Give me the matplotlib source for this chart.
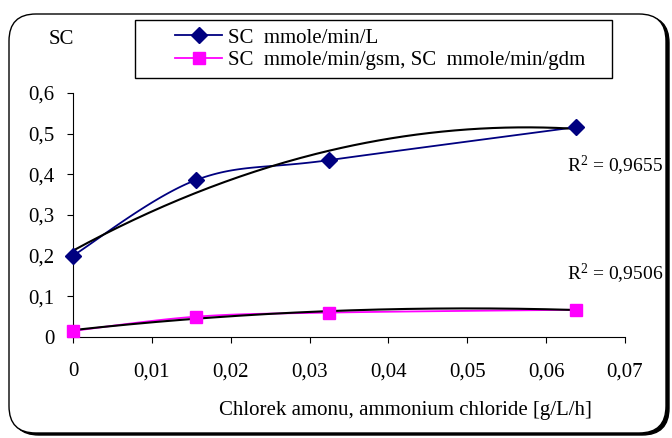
import numpy as np
import matplotlib
matplotlib.use("Agg")
import matplotlib.pyplot as plt
from matplotlib.lines import Line2D
from matplotlib.patches import FancyBboxPatch, Rectangle

plt.rcParams['font.family'] = ['Liberation Serif', 'DejaVu Serif']
plt.rcParams['mathtext.default'] = 'regular'

# data
dose = [0.0, 0.0156, 0.0325, 0.0638]             # ammonium chloride [g/L/h]
sc_per_l = [0.200, 0.386, 0.435, 0.516]          # SC mmole/min/L
sc_per_g = [0.015, 0.050, 0.060, 0.067]          # SC mmole/min/gsm, gdm
r2_labels = ['R$^2$ = 0,9655', 'R$^2$ = 0,9506']
xticks = [0, 0.01, 0.02, 0.03, 0.04, 0.05, 0.06, 0.07]
yticks = [0, 0.1, 0.2, 0.3, 0.4, 0.5, 0.6]


def smooth(x, y, n=40):
    # Excel-like smoothed line (Catmull-Rom through the points)
    pts = np.column_stack([x, y])
    p = np.vstack([pts[0], pts, pts[-1]])
    t = np.linspace(0, 1, n)[:, None]
    segs = []
    for i in range(1, len(p) - 2):
        p0, p1, p2, p3 = p[i - 1], p[i], p[i + 1], p[i + 2]
        seg = 0.5 * (2 * p1 + (p2 - p0) * t
                     + (2 * p0 - 5 * p1 + 4 * p2 - p3) * t ** 2
                     + (3 * p1 - p0 - 3 * p2 + p3) * t ** 3)
        segs.append(seg)
    s = np.vstack(segs)
    return s[:, 0], s[:, 1]


W, H = 672, 438
FS = 15
fig = plt.figure(figsize=(W / 100, H / 100), dpi=100)

# rounded frame with shadow
shadow = FancyBboxPatch((12 / W, 3 / H), 657 / W, 419 / H,
                        boxstyle="round,pad=0,rounding_size=0.04",
                        transform=fig.transFigure, fc='black', ec='black', lw=1,
                        mutation_aspect=W / H, zorder=-3)
frame = FancyBboxPatch((9 / W, 5 / H), 657 / W, 419 / H,
                       boxstyle="round,pad=0,rounding_size=0.04",
                       transform=fig.transFigure, fc='white', ec='black', lw=1,
                       mutation_aspect=W / H, zorder=-2)
legend_box = Rectangle((135 / W, 1 - 78 / H), 477 / W, 58 / H,
                       transform=fig.transFigure, fc='white', ec='black', lw=1,
                       zorder=-1)
fig.patches.extend([shadow, frame, legend_box])

ax = fig.add_axes([73 / W, 1 - 337 / H, 552 / W, 244 / H])
ax.set_facecolor('none')

navy = '#000080'
magenta = '#FF00FF'

xs, ys = smooth(dose, sc_per_l)
ax.plot(xs, ys, color=navy, lw=1.3, zorder=2)
xs, ys = smooth(dose, sc_per_g)
ax.plot(xs, ys, color=magenta, lw=1.3, zorder=2)

# quadratic trend lines
xt = np.linspace(dose[0], dose[-1], 200)
for series in (sc_per_l, sc_per_g):
    coef = np.polyfit(dose, series, 2)
    ax.plot(xt, np.polyval(coef, xt), color='black', lw=1.5, zorder=3)

ax.plot(dose, sc_per_l, ls='none', marker='D', ms=8, color=navy, zorder=4, clip_on=False)
ax.plot(dose, sc_per_g, ls='none', marker='s', ms=8, color=magenta, zorder=4, clip_on=False)

ax.set_xlim(0, 0.07)
ax.set_ylim(0, 0.6)
ax.set_xticks(xticks)
ax.set_xticklabels(['0' if v == 0 else f'{v:.2f}'.replace('.', ',') for v in xticks])
ax.set_yticks(yticks)
ax.set_yticklabels(['0' if v == 0 else f'{v:.1f}'.replace('.', ',') for v in yticks])
ax.spines['top'].set_visible(False)
ax.spines['right'].set_visible(False)
ax.tick_params(axis='x', direction='out', length=4.3, pad=14, labelsize=FS)
ax.tick_params(axis='y', direction='out', length=4.3, pad=9, labelsize=FS)

fig.text(61 / W, 1 - 39 / H, 'SC', fontsize=FS, ha='center', va='center')
fig.text(405 / W, 1 - 411 / H, 'Chlorek amonu, ammonium chloride [g/L/h]',
         fontsize=FS, ha='center', va='center')
fig.text(567 / W, 1 - 172 / H, r2_labels[0], fontsize=14, va='baseline')
fig.text(567 / W, 1 - 280 / H, r2_labels[1], fontsize=14, va='baseline')

handles = [Line2D([], [], color=navy, lw=1.3, marker='D', ms=8),
           Line2D([], [], color=magenta, lw=1.3, marker='s', ms=8)]
fig.legend(handles, ['SC  mmole/min/L', 'SC  mmole/min/gsm, SC  mmole/min/gdm'],
           loc='upper left', bbox_to_anchor=(175 / W, 1 - 28 / H),
           frameon=False, borderpad=0, borderaxespad=0, fontsize=FS,
           handlelength=2.26, handletextpad=0.29, labelspacing=0.15)

fig.savefig('out.png', dpi=100)
